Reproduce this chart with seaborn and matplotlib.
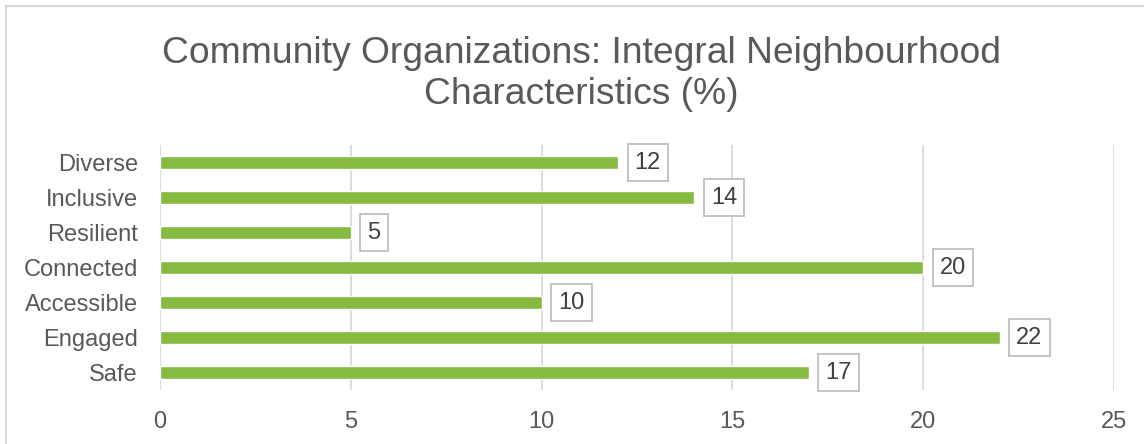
import matplotlib
matplotlib.use("Agg")
import matplotlib.pyplot as plt
import seaborn as sns
import pandas as pd
from matplotlib.patches import Rectangle

# chart data (top to bottom as shown)
categories = ["Diverse", "Inclusive", "Resilient", "Connected", "Accessible", "Engaged", "Safe"]
values = [12, 14, 5, 20, 10, 22, 17]
x_ticks = [0, 5, 10, 15, 20, 25]
title = "Community Organizations: Integral Neighbourhood\nCharacteristics (%)"

BAR_COLOR = "#86BA41"
TEXT_COLOR = "#595959"
GRID_COLOR = "#D9D9D9"

sns.set_theme(style="white")
plt.rcParams['font.family'] = ['Liberation Sans', 'DejaVu Sans']

df = pd.DataFrame({"category": categories, "value": values})

fig = plt.figure(figsize=(11.44, 4.44), dpi=100)
ax = fig.add_axes([160 / 1144, 1 - 390 / 444, (1114 - 160) / 1144, (390 - 145) / 444])

sns.barplot(data=df, x="value", y="category", orient="h", color=BAR_COLOR,
            width=0.37, saturation=1, ax=ax, zorder=3)

ax.set_xlim(0, 25)
ax.set_ylim(len(categories) - 0.5, -0.5)
ax.set_xticks(x_ticks)
ax.set_xlabel("")
ax.set_ylabel("")
ax.grid(axis="x", color=GRID_COLOR, linewidth=1.3, zorder=0)
ax.grid(axis="y", visible=False)
for side in ax.spines.values():
    side.set_visible(False)
ax.tick_params(axis="x", length=0, pad=15, labelsize=17, labelcolor=TEXT_COLOR)
ax.tick_params(axis="y", length=0, pad=16, labelsize=17, labelcolor=TEXT_COLOR)

# data labels in boxes
for i, v in enumerate(values):
    ax.annotate(str(v), xy=(v, i), xytext=(12, 0), textcoords="offset points",
                ha="left", va="center", fontsize=17, color="#404040",
                bbox=dict(boxstyle="square,pad=0.3", fc="white", ec="#BFBFBF", lw=1.3),
                zorder=5)

fig.text(581 / 1144, 1 - 74 / 444, title, ha="center", va="center", fontsize=26.8,
         color=TEXT_COLOR, linespacing=1.25)

# outer chart border
fig.patches.append(Rectangle((6 / 1144, -0.1), 1.2, 1.1 - 6 / 444, transform=fig.transFigure,
                             fill=False, ec=GRID_COLOR, lw=1.5))

fig.savefig("out.png", dpi=100)
